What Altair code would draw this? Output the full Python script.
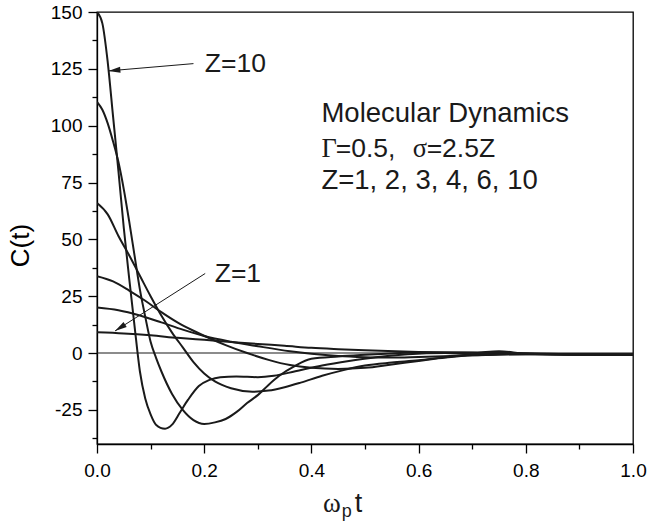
import altair as alt
import pandas as pd

# ---------------- data ----------------
series_names = ["Z=1", "Z=2", "Z=3", "Z=4", "Z=6", "Z=10"]

t_z1 = [0, 0.05, 0.1, 0.15, 0.2, 0.25, 0.3, 0.35, 0.4, 0.45, 0.5, 0.6, 0.7, 0.8, 0.9, 1.0]
c_z1 = [9.1, 8.6, 7.8, 6.7, 5.8, 4.9, 4.0, 3.2, 2.3, 1.7, 1.2, 0.5, 0.1, -0.3, -0.5, -0.5]

t_z2 = [0, 0.04, 0.08, 0.12, 0.16, 0.2, 0.25, 0.3, 0.36, 0.4, 0.45, 0.5, 0.55, 0.6, 0.7, 0.8, 0.9, 1.0]
c_z2 = [20, 18.8, 16.5, 13.5, 10.3, 7.5, 5.0, 3.0, 0.8, -0.3, -1.3, -1.8, -2.0, -1.7, -1.0, -0.5, -0.6, -0.6]

t_z3 = [0, 0.03, 0.06, 0.09, 0.12, 0.15, 0.18, 0.21, 0.24, 0.28, 0.32, 0.36, 0.4, 0.45, 0.5,
        0.55, 0.6, 0.65, 0.7, 0.8, 0.9, 1.0]
c_z3 = [33.8, 31.5, 27.5, 23.0, 18.0, 13.5, 9.8, 6.5, 3.5, 0.0, -3.0, -5.3, -6.5, -7.0, -6.5,
        -5.0, -3.5, -2.0, -1.0, -0.5, -0.7, -0.8]

t_z4 = [0, 0.02, 0.04, 0.06, 0.08, 0.1, 0.12, 0.14, 0.16, 0.18, 0.2, 0.22, 0.25, 0.29, 0.32,
        0.35, 0.38, 0.42, 0.46, 0.5, 0.55, 0.6, 0.65, 0.7, 0.8, 0.9, 1.0]
c_z4 = [66, 61, 51.5, 43, 34, 25, 16.5, 9, 2.5, -4, -9, -12.5, -15.5, -17, -16.5,
        -15, -13, -10, -7.5, -5.5, -4.2, -3.2, -1.8, -0.8, -0.2, -0.5, -0.7]

t_z6 = [0, 0.01, 0.02, 0.03, 0.04, 0.05, 0.06, 0.07, 0.08, 0.09, 0.1, 0.11, 0.12, 0.14, 0.16,
        0.18, 0.2, 0.22, 0.24, 0.26, 0.28, 0.3, 0.32, 0.34, 0.367, 0.4, 0.45, 0.5, 0.55, 0.6,
        0.7, 0.75, 0.8, 0.9, 1.0]
c_z6 = [110.5, 107, 101, 93, 84, 72, 58, 43, 28, 16, 5, -2, -8, -18, -25,
        -29.5, -31.2, -30.5, -29, -26, -22, -18.5, -14, -10, -6, -2.5, -1.5, -0.8, -0.2, 0.3,
        0.2, 0.8, -0.2, -0.6, -0.7]

t_z10 = [0, 0.01, 0.02, 0.03, 0.04, 0.05, 0.06, 0.07, 0.08, 0.09, 0.1, 0.11, 0.127, 0.14, 0.155,
         0.17, 0.19, 0.21, 0.23, 0.26, 0.3, 0.33, 0.37, 0.42, 0.47, 0.52, 0.58, 0.65, 0.7, 0.75,
         0.8, 0.9, 1.0]
c_z10 = [150, 145, 128, 104, 80, 55, 33, 12, -8, -20, -27, -31.5, -33.3, -31.5, -26,
         -20.5, -14.5, -11.8, -10.6, -10.3, -10.6, -10, -8, -5.5, -3.5, -1.8, -0.5, 0, -0.5, 0.3,
         -0.3, -0.8, -0.8]

series_t = [t_z1, t_z2, t_z3, t_z4, t_z6, t_z10]
series_c = [c_z1, c_z2, c_z3, c_z4, c_z6, c_z10]

# axis ticks
x_major = [0, 0.2, 0.4, 0.6, 0.8, 1.0]
x_minor = [0.1, 0.3, 0.5, 0.7, 0.9]
y_major = [-25, 0, 25, 50, 75, 100, 125, 150]
y_minor = [-37.5, -12.5, 12.5, 37.5, 62.5, 87.5, 112.5, 137.5]
zero_level = [0]

# annotation texts (sans-serif)
ann_label = ["Z=10", "Z=1", "Molecular Dynamics", "=0.5,", "=2.5Z", "Z=1, 2, 3, 4, 6, 10", "p", "t"]
ann_t = [0.2011, 0.2196, 0.4187, 0.4453, 0.615, 0.4187, 0.4565, 0.4808]
ann_c = [123.5, 31.1, 101.6, 86.2, 86.2, 72.3, -72.1, -70.1]
ann_size = [26.5, 26.5, 27.5, 26.5, 26.5, 27.5, 18, 27]

# annotation texts (serif symbols)
greek_label = ["Γ", "σ", "ω"]
greek_t = [0.4187, 0.589, 0.4216]
greek_c = [86.2, 86.2, -70.1]
greek_size = [26.5, 26.5, 27]

# arrows: start point -> tip
arrow_t = [0.18, 0.2019]
arrow_c = [127.3, 35.0]
arrow_t2 = [0.0212, 0.0336]
arrow_c2 = [124.1, 9.7]
arrow_angle = [265, 237.3]

# ---------------- build ----------------
rows = []
for name, ts, cs in zip(series_names, series_t, series_c):
    for t, c in zip(ts, cs):
        rows.append({"series": name, "t": t, "c": c})
df = pd.DataFrame(rows)

ann_df = pd.DataFrame({"label": ann_label, "t": ann_t, "c": ann_c, "fs": ann_size})
greek_df = pd.DataFrame({"label": greek_label, "t": greek_t, "c": greek_c, "fs": greek_size})
arrow_df = pd.DataFrame({"t": arrow_t, "c": arrow_c, "t2": arrow_t2, "c2": arrow_c2, "ang": arrow_angle})
zero_df = pd.DataFrame({"c": zero_level})

FONT = "Liberation Sans"
SERIF = "Liberation Serif"
INK = "#1a1a1a"

xs = alt.Scale(domain=[0, 1], nice=False, zero=False)
ys = alt.Scale(domain=[-40, 150], nice=False, zero=False)

x_axis_major = alt.Axis(
    values=x_major, format=".1f", title=None, orient="bottom",
    tickSize=9, labelPadding=8, labelFlush=False, labelOverlap=False,
)
y_axis_major = alt.Axis(
    values=y_major, format="d", orient="left",
    title="C(t)", tickSize=9, labelPadding=6, labelFlush=False, labelOverlap=False,
    titleFontSize=26, titleX=-64, titleY=233, titleBaseline="bottom", titleAngle=270,
    labelExpr="'' + datum.value",
)
x_axis_minor = alt.Axis(
    values=x_minor, title=None, orient="bottom", labels=False, domain=False, tickSize=5,
)
y_axis_minor = alt.Axis(
    values=y_minor, title=None, orient="left", labels=False, domain=False, tickSize=5,
)

lines = alt.Chart(df).mark_line(
    interpolate="monotone", color=INK, strokeWidth=2, clip=True
).encode(
    x=alt.X("t:Q", scale=xs, axis=x_axis_major),
    y=alt.Y("c:Q", scale=ys, axis=y_axis_major),
    detail="series:N",
)

zero_rule = alt.Chart(zero_df).mark_rule(color=INK, strokeWidth=1.1).encode(
    y=alt.Y("c:Q", scale=ys, axis=y_axis_minor)
)

arrow_lines = alt.Chart(arrow_df).mark_rule(color=INK, strokeWidth=1).encode(
    x=alt.X("t:Q", scale=xs, axis=x_axis_minor),
    y=alt.Y("c:Q", scale=ys, axis=None),
    x2="t2:Q",
    y2="c2:Q",
)

arrow_heads = alt.Chart(arrow_df).mark_point(
    shape="M0,0L0.5,2L-0.5,2Z", filled=True, color=INK, opacity=1, size=144, strokeWidth=0
).encode(
    x=alt.X("t2:Q", scale=xs, axis=None),
    y=alt.Y("c2:Q", scale=ys, axis=None),
    angle=alt.Angle("ang:Q", scale=None),
)

ann_text = alt.Chart(ann_df).mark_text(
    align="left", baseline="alphabetic", font=FONT, color=INK
).encode(
    x=alt.X("t:Q", scale=xs, axis=None),
    y=alt.Y("c:Q", scale=ys, axis=None),
    text="label:N",
    size=alt.Size("fs:Q", scale=None, legend=None),
)

greek_text = alt.Chart(greek_df).mark_text(
    align="left", baseline="alphabetic", font=SERIF, color=INK
).encode(
    x=alt.X("t:Q", scale=xs, axis=None),
    y=alt.Y("c:Q", scale=ys, axis=None),
    text="label:N",
    size=alt.Size("fs:Q", scale=None, legend=None),
)

chart = alt.layer(
    lines, zero_rule, arrow_lines, arrow_heads, ann_text, greek_text
).resolve_axis(
    x="independent", y="independent"
).properties(
    width=536,
    height=432,
    autosize=alt.AutoSizeParams(type="none"),
    padding={"left": 97, "top": 12, "right": 16, "bottom": 87},
    background="white",
).configure_view(
    stroke="black", strokeWidth=1.3
).configure_axis(
    grid=False,
    domainColor="black",
    domainWidth=1.3,
    tickColor="black",
    tickWidth=1.3,
    labelColor="black",
    labelFont=FONT,
    labelFontSize=19,
    titleFont=FONT,
    titleColor="black",
    titleFontWeight="normal",
)

chart.save("out.html", embed_options={"renderer": "svg", "actions": False})
